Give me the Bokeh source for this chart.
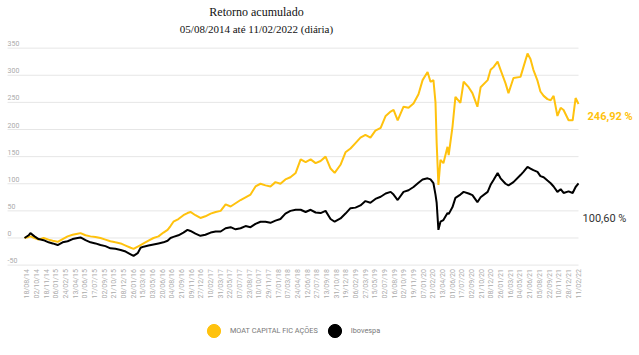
import math
from bokeh.plotting import figure
from bokeh.models import Range1d, Legend, LegendItem, ColumnDataSource, Label
from bokeh.core.properties import value
from bokeh.embed import file_html
from bokeh.resources import INLINE

# ---------------- data ----------------
title_1 = "Retorno acumulado"
title_2 = "05/08/2014 até 11/02/2022 (diária)"
series_names = ["MOAT CAPITAL FIC AÇÕES", "Ibovespa"]

tick_labels = [
    "18/08/14", "02/10/14", "18/11/14", "06/01/15", "24/02/15", "13/04/15",
    "01/06/15", "17/07/15", "02/09/15", "21/10/15", "08/12/15", "26/01/16",
    "15/03/16", "03/05/16", "20/06/16", "04/08/16", "21/09/16", "09/11/16",
    "27/12/16", "10/02/17", "31/03/17", "22/05/17", "07/07/17", "23/08/17",
    "10/10/17", "29/11/17", "17/01/18", "07/03/18", "24/04/18", "12/06/18",
    "27/07/18", "13/09/18", "31/10/18", "19/12/18", "06/02/19", "27/03/19",
    "15/05/19", "02/07/19", "16/08/19", "02/10/19", "19/11/19", "07/01/20",
    "21/02/20", "13/04/20", "01/06/20", "17/07/20", "02/09/20", "21/10/20",
    "08/12/20", "26/01/21", "16/03/21", "04/05/21", "21/06/21", "05/08/21",
    "22/09/21", "10/11/21", "28/12/21", "11/02/22",
]
# trading-day index of each tick label (one label every 33 sessions)
tick_days = list(range(9, 1891, 33))

y_ticks = [-50, 0, 50, 100, 150, 200, 250, 300, 350]

# trading-day index of each sampled point
days = [
    0, 14, 20, 34, 48, 65, 82, 96, 113, 130,
    147, 164, 181, 191, 208, 225, 242, 259, 276, 293,
    310, 328, 345, 362, 372, 386, 396, 406, 423, 440,
    457, 474, 488, 498, 508, 525, 542, 556, 566, 583,
    600, 617, 635, 652, 669, 686, 703, 720, 737, 754,
    771, 788, 805, 822, 839, 856, 873, 890, 907, 925,
    942, 959, 976, 993, 1010, 1027, 1044, 1058, 1078, 1095,
    1112, 1129, 1146, 1163, 1180, 1197, 1215, 1232, 1249, 1259,
    1273, 1293, 1310, 1327, 1344, 1358, 1375, 1385, 1395, 1402,
    1406, 1412, 1419, 1429, 1443, 1447, 1460, 1470, 1487, 1498,
    1515, 1528, 1545, 1556, 1580, 1590, 1600, 1614, 1624, 1641,
    1651, 1668, 1692, 1702, 1716, 1726, 1736, 1750, 1760, 1771,
    1784, 1795, 1805, 1818, 1829, 1839, 1856, 1870, 1880, 1890,
]
# cumulative return (%) - MOAT CAPITAL FIC AÇÕES
moat = [
    0, 2, 3, 0, -3, 0, -3, -5, -7, -2,
    3, 6, 8, 9, 5, 3, 2, 0, -3, -6,
    -8, -10, -14, -18, -20, -16, -13, -10, -5, 0,
    3, 10, 15, 22, 30, 35, 42, 46, 48, 42,
    37, 40, 45, 48, 50, 62, 58, 64, 70, 75,
    80, 95, 100, 97, 95, 103, 100, 108, 112, 120,
    145, 140, 145, 138, 142, 150, 128, 120, 135, 158,
    165, 175, 185, 190, 185, 198, 203, 225, 233, 236,
    217, 242, 240, 248, 265, 291, 306, 288, 291, 250,
    175, 98, 144, 138, 168, 153, 205, 260, 249, 288,
    278, 267, 242, 278, 291, 310, 315, 325, 310, 285,
    267, 295, 297, 315, 340, 330, 310, 290, 270, 262,
    256, 254, 262, 225, 240, 236, 217, 217, 258, 246.92,
]
# cumulative return (%) - Ibovespa
ibov = [
    0, 5, 9, 3, -2, -4, -8, -10, -13, -8,
    -6, -2, 0, 1, -4, -8, -10, -13, -15, -19,
    -20, -22, -25, -30, -33, -28, -18, -16, -14, -12,
    -10, -8, -5, 0, 2, 5, 10, 15, 13, 8,
    4, 6, 10, 12, 12, 18, 20, 16, 18, 22,
    20, 26, 30, 30, 28, 32, 35, 45, 50, 52,
    52, 48, 52, 47, 46, 50, 35, 30, 36, 45,
    55, 56, 60, 68, 65, 72, 76, 82, 85, 80,
    70, 85, 88, 94, 102, 108, 110, 108, 101, 80,
    65, 15, 30, 33, 46, 44, 57, 74, 80, 85,
    82, 79, 66, 75, 85, 98, 107, 120, 110, 100,
    97, 103, 116, 122, 131, 128, 125, 122, 114, 112,
    106, 101, 95, 85, 90, 83, 86, 83, 94, 100.60,
]

# ---------------- style ----------------
YELLOW = "#FFC20E"
GRID = "#e6e6e6"
LIGHT = "#aaaaaa"
GRID_START = -58          # left end of the gridlines (in trading days)

p = figure(width=639, height=355, output_backend="svg", toolbar_location=None,
           x_range=Range1d(-82, 2098), y_range=Range1d(-216.6, 437.8),
           x_axis_type=None, y_axis_type=None,
           min_border_left=0, min_border_right=0, min_border_top=0,
           min_border_bottom=0, outline_line_color=None,
           background_fill_color="white", border_fill_color="white")
p.xgrid.visible = False
p.ygrid.visible = False

# horizontal gridlines at the y ticks, from the left edge to the last day
p.segment(x0=[GRID_START] * len(y_ticks), x1=[days[-1]] * len(y_ticks),
          y0=y_ticks, y1=y_ticks, line_color=GRID, line_width=1)

# y tick labels sitting above their gridlines
p.text(x=[GRID_START] * len(y_ticks), y=y_ticks, text=[str(v) for v in y_ticks],
       text_font=value("Roboto"), text_font_size="7px", text_color=LIGHT,
       text_align="left", text_baseline="bottom", y_offset=-2)

# x tick labels, vertical, hanging under the lowest gridline
p.text(x=tick_days, y=[y_ticks[0]] * len(tick_days), text=tick_labels,
       angle=math.pi / 2, text_font=value("Roboto"), text_font_size="7px",
       text_color=LIGHT, text_align="right", text_baseline="middle",
       y_offset=4)

src = ColumnDataSource(dict(day=days, moat=moat, ibov=ibov))
p.line("day", "moat", source=src, line_color=YELLOW, line_width=2)
p.line("day", "ibov", source=src, line_color="black", line_width=2)


def fmt(v):
    return f"{v:.2f}".replace(".", ",") + " %"


p.text(x=[days[-1]], y=[moat[-1]], text=[fmt(moat[-1])], x_offset=9,
       y_offset=12, text_baseline="middle", text_color=YELLOW,
       text_font=value("Roboto"), text_font_size="11px",
       text_font_style="bold")
p.text(x=[days[-1]], y=[ibov[-1]], text=[fmt(ibov[-1])], x_offset=4,
       y_offset=35, text_baseline="middle", text_color="#333333",
       text_font=value("Roboto"), text_font_size="11px")

# titles
p.add_layout(Label(x=256, y=344, x_units="screen", y_units="screen", text=title_1,
                   text_align="center", text_baseline="middle",
                   text_font="Liberation Serif", text_font_size="12px",
                   text_color="#111111"))
p.add_layout(Label(x=256, y=327, x_units="screen", y_units="screen", text=title_2,
                   text_align="center", text_baseline="middle",
                   text_font="Liberation Serif", text_font_size="11px",
                   text_color="#111111"))

# legend with round markers (zero-size markers on the series' last points,
# so that only the legend swatches are visible)
r_m = p.scatter(x=days[-1:], y=moat[-1:], marker="circle", size=0,
                fill_color=YELLOW, line_color=YELLOW)
r_i = p.scatter(x=days[-1:], y=ibov[-1:], marker="circle", size=0,
                fill_color="black", line_color="black")
legend = Legend(items=[LegendItem(label=series_names[0], renderers=[r_m]),
                       LegendItem(label=series_names[1], renderers=[r_i])],
                location=(197, 8), orientation="horizontal",
                glyph_width=33, glyph_height=33, label_standoff=0, spacing=-6,
                padding=0, margin=0, border_line_color=None,
                background_fill_alpha=0, label_text_font="Roboto",
                label_text_font_size="7.3px", label_text_color="#777777")
p.add_layout(legend)

open("out.html", "w").write(file_html(p, INLINE))
